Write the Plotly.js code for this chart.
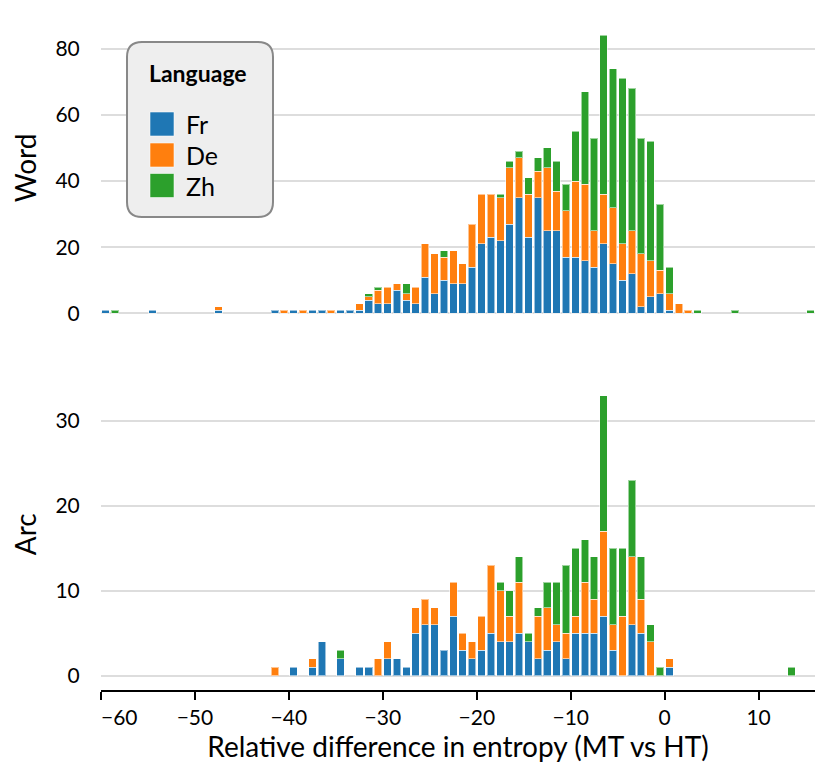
<!DOCTYPE html>
<html>
<head>
<meta charset="utf-8">
<script src="https://cdn.plot.ly/plotly-3.0.1.min.js"></script>
<style>html,body{margin:0;padding:0;background:#fff;}#chart{width:830px;height:771px;}</style>
</head>
<body>
<div id="chart"></div>
<script>
// ---------- DATA (bin start values, bins of width 1) ----------
const languages = ["Fr", "De", "Zh"];
const colors = ["#1f77b4", "#ff7f0e", "#2ca02c"];

const wordBins = [-60,-59,-55,-48,
  -42,-41,-40,-39,-38,-37,-36,-35,-34,-33,
  -32,-31,-30,-29,-28,-27,-26,-25,-24,-23,
  -22,-21,-20,-19,-18,-17,-16,-15,-14,-13,
  -12,-11,-10,-9,-8,-7,-6,-5,-4,-3,
  -2,-1,0,1,2,3,7,15];
const wordFr = [1,0,1,1,
  1,0,1,0,1,1,0,1,1,1,
  4,3,3,7,4,3,11,6,10,9,
  9,14,21,23,22,27,35,23,35,25,
  25,17,17,16,14,21,15,10,12,2,
  5,6,1,0,0,0,0,0];
const wordDe = [0,0,0,1,
  0,1,0,1,0,0,1,0,0,2,
  1,4,5,2,2,5,10,12,7,10,
  6,13,15,13,13,17,12,13,8,19,
  12,14,23,23,11,15,17,11,13,16,
  11,7,5,3,1,0,0,0];
const wordZh = [0,1,0,0,
  0,0,0,0,0,0,0,0,0,0,
  1,1,0,0,3,0,0,0,2,0,
  0,0,0,0,1,2,2,5,4,6,
  9,8,15,28,28,48,42,50,43,35,
  36,20,8,0,0,1,1,1];

const arcBins = [-42,-40,-38,-37,-35,
  -33,-32,-31,-30,-29,-28,-27,-26,-25,-24,
  -23,-22,-21,-20,-19,-18,-17,-16,-15,-14,
  -13,-12,-11,-10,-9,-8,-7,-6,-5,-4,
  -3,-2,-1,0,13];
const arcFr = [0,1,1,4,2,
  1,1,0,2,2,1,5,6,6,3,
  7,3,2,3,5,4,4,5,4,2,
  3,4,2,5,5,5,7,3,0,6,
  5,0,0,1,0];
const arcDe = [1,0,1,0,0,
  0,0,2,2,0,0,3,3,2,0,
  4,2,2,4,8,6,3,6,0,5,
  5,2,3,2,6,4,10,3,7,8,
  4,4,0,1,0];
const arcZh = [0,0,0,0,1,
  0,0,0,0,0,0,0,0,0,0,
  0,0,0,0,0,1,3,3,1,1,
  3,5,8,8,5,5,16,9,8,9,
  5,2,1,0,1];

const xTicks = [-60,-50,-40,-30,-20,-10,0,10];
const wordTicks = [0,20,40,60,80];
const arcTicks = [0,10,20,30];
const xTitle = "Relative difference in entropy (MT vs HT)";
const legendTitle = "Language";

// ---------- LAYOUT HELPERS ----------
const W = 830, H = 771;
const ML = 101, MR = 15, MT = 0, MB = 81;
const PW = W - ML - MR, PH = H - MT - MB;
const fx = px => (px - ML) / PW;
const fy = py => 1 - (py - MT) / PH;
const FONT = "Lato, 'Open Sans', sans-serif";

const BARW = 0.8;
function mk(bins, vals, i, xa, ya) {
  return {
    type: "bar",
    name: languages[i],
    x: bins.map(b => b + 0.5),
    y: vals.map(v => v === 0 ? null : v),
    width: BARW,
    xaxis: xa, yaxis: ya,
    marker: {color: colors[i], line: {color: "rgba(255,255,255,0.55)", width: 1}},
    showlegend: false,
    hoverinfo: "skip"
  };
}
const data = [
  mk(wordBins, wordFr, 0, "x2", "y2"),
  mk(wordBins, wordDe, 1, "x2", "y2"),
  mk(wordBins, wordZh, 2, "x2", "y2"),
  mk(arcBins, arcFr, 0, "x", "y"),
  mk(arcBins, arcDe, 1, "x", "y"),
  mk(arcBins, arcZh, 2, "x", "y")
];

const tickFont = {family: FONT, size: 21, color: "#000"};
const titleFont = {family: FONT, size: 28, color: "#000"};

// custom legend (rounded box)
const bx0 = 127, bx1 = 273, by0 = 42, by1 = 217, r = 15;
const X = fx, Y = fy;
const boxPath = `M ${X(bx0+r)},${Y(by0)} L ${X(bx1-r)},${Y(by0)} Q ${X(bx1)},${Y(by0)} ${X(bx1)},${Y(by0+r)} ` +
  `L ${X(bx1)},${Y(by1-r)} Q ${X(bx1)},${Y(by1)} ${X(bx1-r)},${Y(by1)} L ${X(bx0+r)},${Y(by1)} ` +
  `Q ${X(bx0)},${Y(by1)} ${X(bx0)},${Y(by1-r)} L ${X(bx0)},${Y(by0+r)} Q ${X(bx0)},${Y(by0)} ${X(bx0+r)},${Y(by0)} Z`;

const shapes = [{type: "path", xref: "paper", yref: "paper", path: boxPath,
  fillcolor: "#eeeeee", line: {color: "#888888", width: 2}, layer: "above"}];
const annotations = [];
annotations.push({xref: "paper", yref: "paper", x: fx(147), y: fy(73), xanchor: "left", yanchor: "middle",
  text: "<b>" + legendTitle + "</b>", showarrow: false, font: {family: FONT, size: 23, color: "#000"}});
const rowC = [124, 155, 185.5];
languages.forEach((lang, i) => {
  shapes.push({type: "rect", xref: "paper", yref: "paper", x0: fx(150), x1: fx(174),
    y0: fy(rowC[i] - 12), y1: fy(rowC[i] + 12), fillcolor: colors[i],
    line: {color: "rgba(255,255,255,0.55)", width: 1}, layer: "above"});
  annotations.push({xref: "paper", yref: "paper", x: fx(184), y: fy(rowC[i]), xanchor: "left", yanchor: "middle",
    text: lang, showarrow: false, font: {family: FONT, size: 25, color: "#000"}});
});
// flushed first x tick label
annotations.push({xref: "x", yref: "paper", x: xTicks[0], y: fy(716), xanchor: "left", yanchor: "middle",
  text: "\u2212" + Math.abs(xTicks[0]), showarrow: false, font: tickFont, xshift: -2});

const layout = {
  width: W, height: H,
  margin: {l: ML, r: MR, t: MT, b: MB, pad: 0},
  paper_bgcolor: "#fff", plot_bgcolor: "rgba(0,0,0,0)",
  barmode: "stack",
  font: {family: FONT, color: "#000"},
  xaxis: {
    anchor: "y", domain: [0, 1], range: [-60, 16],
    tickmode: "array", tickvals: xTicks,
    ticktext: xTicks.map((v, i) => i === 0 ? "" : (v < 0 ? "\u2212" + Math.abs(v) : String(v))),
    showgrid: false, zeroline: false,
    showline: true, linecolor: "#000", linewidth: 2,
    ticks: "outside", ticklen: 8, tickwidth: 2, tickcolor: "#000",
    tickfont: tickFont,
    title: {text: xTitle, font: titleFont, standoff: 4}
  },
  xaxis2: {
    anchor: "y2", matches: "x", range: [-60, 16],
    showticklabels: false, showgrid: false, zeroline: false, showline: false, ticks: ""
  },
  yaxis: {
    domain: [0, fy(378.5)], range: [-1.65, 35],
    tickmode: "array", tickvals: arcTicks,
    showgrid: true, gridcolor: "#dddddd", gridwidth: 2,
    zeroline: false, showline: false,
    ticks: "outside", ticklen: 16, tickcolor: "rgba(0,0,0,0)",
    tickfont: tickFont,
    title: {text: "Arc", font: titleFont, standoff: 10}
  },
  yaxis2: {
    domain: [fy(320.1), fy(15.6)], range: [-2, 90],
    tickmode: "array", tickvals: wordTicks,
    showgrid: true, gridcolor: "#dddddd", gridwidth: 2,
    zeroline: false, showline: false,
    ticks: "outside", ticklen: 16, tickcolor: "rgba(0,0,0,0)",
    tickfont: tickFont,
    title: {text: "Word", font: titleFont, standoff: 10}
  },
  shapes: shapes,
  annotations: annotations
};

Plotly.newPlot("chart", data, layout, {staticPlot: true, displayModeBar: false});
</script>
</body>
</html>
